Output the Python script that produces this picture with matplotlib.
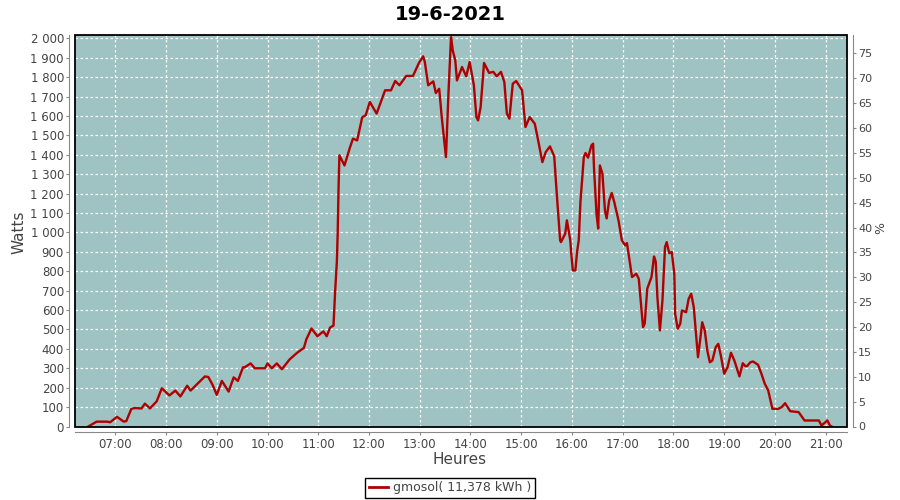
import numpy as np
import matplotlib.pyplot as plt
from matplotlib.patches import Rectangle
from matplotlib.lines import Line2D

# production solaire du 19-6-2021
heures = ["06:28", "06:38", "06:50", "06:54", "07:02", "07:10", "07:13", "07:19", "07:23", "07:31",
          "07:35", "07:41", "07:49", "07:55", "08:04", "08:11", "08:17", "08:25", "08:29", "08:36",
          "08:46", "08:50", "08:55", "09:00", "09:06", "09:14", "09:20", "09:25", "09:31", "09:33",
          "09:40", "09:45", "09:57", "10:00", "10:05", "10:11", "10:17", "10:26", "10:35", "10:43",
          "10:46", "10:52", "10:59", "11:06", "11:10", "11:14", "11:18", "11:20", "11:22", "11:23",
          "11:24", "11:25", "11:31", "11:37", "11:41", "11:46", "11:52", "11:56", "12:01", "12:09",
          "12:19", "12:26", "12:31", "12:36", "12:44", "12:52", "12:59", "13:04", "13:06", "13:10",
          "13:16", "13:19", "13:23", "13:26", "13:31", "13:34", "13:37", "13:39", "13:42", "13:44",
          "13:50", "13:55", "13:59", "14:04", "14:07", "14:09", "14:12", "14:16", "14:22", "14:27",
          "14:31", "14:36", "14:40", "14:43", "14:46", "14:50", "14:54", "15:01", "15:05", "15:10",
          "15:16", "15:20", "15:25", "15:29", "15:34", "15:39", "15:42", "15:46", "15:47", "15:52",
          "15:54", "15:58", "15:59", "16:01", "16:04", "16:06", "16:08", "16:10", "16:14", "16:16",
          "16:19", "16:23", "16:25", "16:26", "16:29", "16:31", "16:33", "16:36", "16:39", "16:41",
          "16:44", "16:47", "16:50", "16:55", "16:59", "17:03", "17:05", "17:08", "17:11", "17:16",
          "17:19", "17:24", "17:26", "17:29", "17:34", "17:37", "17:39", "17:41", "17:44", "17:47",
          "17:50", "17:52", "17:55", "17:58", "18:01", "18:02", "18:05", "18:08", "18:10", "18:15",
          "18:18", "18:21", "18:24", "18:26", "18:29", "18:31", "18:34", "18:37", "18:40", "18:43",
          "18:46", "18:50", "18:53", "18:56", "19:00", "19:04", "19:08", "19:12", "19:18", "19:22",
          "19:25", "19:27", "19:31", "19:34", "19:40", "19:44", "19:48", "19:52", "19:57", "20:04",
          "20:08", "20:12", "20:18", "20:28", "20:35", "20:52", "20:55", "21:02", "21:05", "21:07"]
watts = [0, 25, 25, 22, 50, 25, 28, 91, 95, 93,
         118, 93, 130, 197, 160, 185, 155, 210, 185, 215,
         258, 255, 215, 163, 235, 180, 253, 235, 305, 305,
         325, 300, 300, 325, 300, 325, 295, 345, 380, 405,
         450, 505, 465, 490, 465, 510, 520, 700, 850, 1000,
         1233, 1397, 1345, 1431, 1483, 1474, 1594, 1603, 1672, 1612,
         1732, 1732, 1780, 1758, 1806, 1806, 1873, 1907, 1878, 1758,
         1778, 1718, 1740, 1594, 1388, 1723, 2006, 1938, 1886, 1783,
         1852, 1804, 1878, 1758, 1594, 1577, 1646, 1873, 1822, 1827,
         1804, 1827, 1775, 1612, 1586, 1766, 1780, 1732, 1543, 1594,
         1560, 1474, 1362, 1414, 1443, 1392, 1200, 959, 950, 993,
         1062, 959, 899, 804, 804, 899, 959, 1156, 1388, 1409,
         1385, 1448, 1457, 1336, 1096, 1020, 1345, 1302, 1113, 1072,
         1165, 1203, 1156, 1062, 959, 933, 945, 856, 770, 787,
         761, 512, 529, 710, 770, 876, 850, 667, 495, 650,
         924, 950, 893, 899, 787, 581, 504, 529, 598, 589,
         658, 684, 615, 512, 357, 426, 537, 495, 392, 331,
         340, 409, 426, 366, 272, 306, 380, 340, 258, 326,
         311, 311, 331, 335, 318, 272, 220, 186, 91, 91,
         100, 120, 79, 74, 31, 31, 5, 31, 5, 0]

t = np.array([int(h[:2]) + int(h[3:]) / 60 for h in heures])
heures_ticks = list(range(7, 22))
watts_ticks = list(range(0, 2001, 100))
pct_ticks = list(range(0, 76, 5))

fond = '#9EC3C2'
gris = '#444444'

fig = plt.figure(figsize=(9, 5), dpi=100)
ax = fig.add_axes([75 / 900, 1 - 426.5 / 500, 772 / 900, 391.5 / 500])
ax.set_facecolor(fond)
ax.plot(t, watts, color='#B00000', lw=1.7, zorder=3)

ax.set_xlim(6.206, 21.42)
ax.set_ylim(0, 2017)
ax.set_xticks(heures_ticks)
ax.set_xticklabels([f"{h:02d}:00" for h in heures_ticks])
ax.set_yticks(watts_ticks)
ax.set_yticklabels([f"{w:,}".replace(",", " ") for w in watts_ticks])
ax.grid(True, color='white', ls=(0, (2, 2)), lw=0.9)

for s in ['top', 'right']:
    ax.spines[s].set_visible(False)
for s in ['left', 'bottom']:
    ax.spines[s].set_position(('outward', 4))
    ax.spines[s].set_color('#888888')
ax.tick_params(colors='#888888', labelcolor=gris, labelsize=8.5, length=2, width=0.8, pad=2)
ax.add_patch(Rectangle((0, 0), 1, 1, transform=ax.transAxes, fill=False,
                       edgecolor='black', lw=1.3, clip_on=False, zorder=5))

ax2 = ax.twinx()
ax2.set_ylim(0, 78.7)
ax2.set_yticks(pct_ticks)
for s in ['top', 'left', 'bottom']:
    ax2.spines[s].set_visible(False)
ax2.spines['right'].set_position(('outward', 4))
ax2.spines['right'].set_color('#888888')
ax2.tick_params(colors='#888888', labelcolor=gris, labelsize=8, length=2, width=0.8, pad=2)

fig.text(0.5, 1 - 14 / 500, "19-6-2021", ha='center', va='center',
         fontsize=14, fontweight='bold')
fig.text(19 / 900, 1 - 232 / 500, "Watts", rotation=90, ha='center', va='center',
         fontsize=11, color=gris)
fig.text(460 / 900, 1 - 460 / 500, "Heures", ha='center', va='center',
         fontsize=11, color=gris)
fig.text(881 / 900, 1 - 228 / 500, "%", rotation=90, ha='center', va='center',
         fontsize=9, color=gris)

leg = fig.legend([Line2D([], [], color='#B00000', lw=2)], ["gmosol( 11,378 kWh )"],
                 loc='center', bbox_to_anchor=(450 / 900, 1 - 488 / 500),
                 fontsize=9, fancybox=False, edgecolor='black', framealpha=1,
                 handlelength=1.5, handletextpad=0.4, borderpad=0.3)
leg.get_frame().set_linewidth(1)
for txt in leg.get_texts():
    txt.set_color(gris)

fig.savefig("out.png", dpi=100)
